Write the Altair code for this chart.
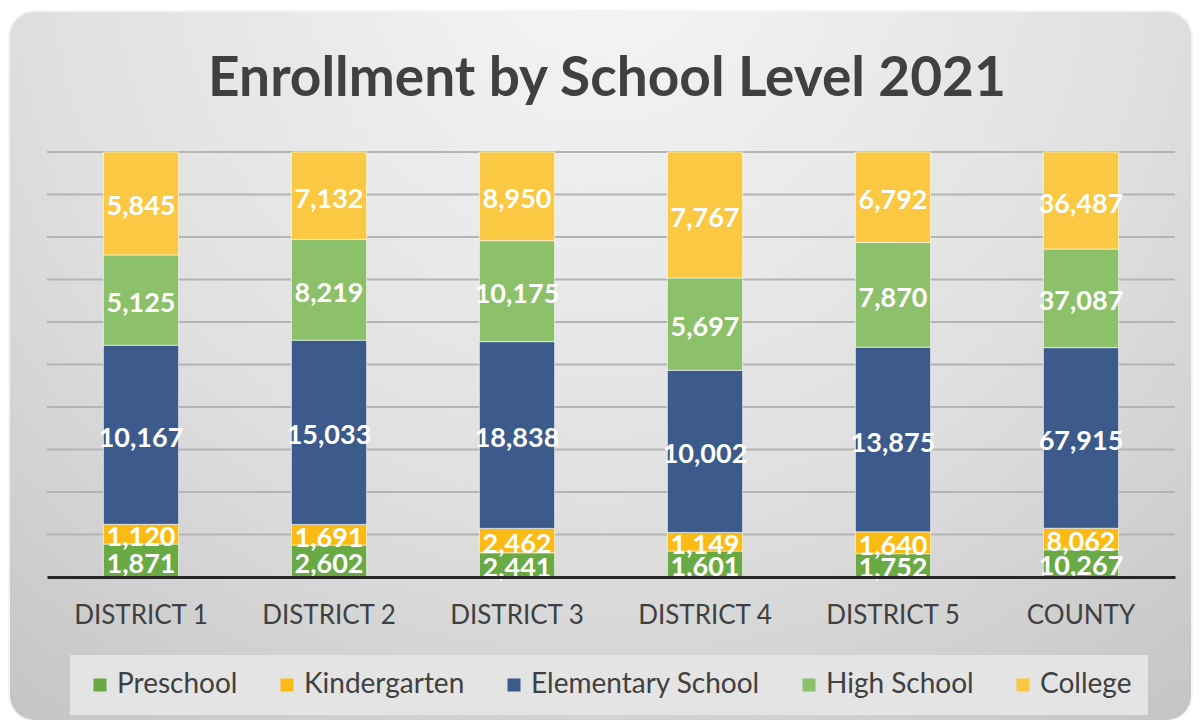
import altair as alt
import pandas as pd

districts = ["DISTRICT 1", "DISTRICT 2", "DISTRICT 3", "DISTRICT 4", "DISTRICT 5", "COUNTY"]
levels = ["Preschool", "Kindergarten", "Elementary School", "High School", "College"]
colors = ["#6AAA45", "#FCBA14", "#3C5A8C", "#8DC06A", "#FAC843"]

preschool = [1871, 2602, 2441, 1601, 1752, 10267]
kindergarten = [1120, 1691, 2462, 1149, 1640, 8062]
elementary = [10167, 15033, 18838, 10002, 13875, 67915]
high_school = [5125, 8219, 10175, 5697, 7870, 37087]
college = [5845, 7132, 8950, 7767, 6792, 36487]

grid_ticks = [0.1, 0.2, 0.3, 0.4, 0.5, 0.6, 0.7, 0.8, 0.9, 1.0]
title_text = "Enrollment by School Level 2021"

series = [preschool, kindergarten, elementary, high_school, college]
rows = []
for li, (lvl, vals) in enumerate(zip(levels, series)):
    for d, v in zip(districts, vals):
        rows.append({"district": d, "level": lvl, "order": li, "value": v})
df = pd.DataFrame(rows)

W, H = 1128, 425
FONT = "Lato"

yscale = alt.Scale(domain=[0, 1], nice=False)

x_enc = alt.X("district:N", sort=districts, title=None,
              scale=alt.Scale(paddingInner=0.6, paddingOuter=0.3),
              axis=alt.Axis(labelFontSize=26, labelColor="#404040", labelFont=FONT,
                            labelAngle=0, labelPadding=25, ticks=False,
                            domainColor="#262626", domainWidth=3, grid=False,
                            zindex=1))

bg = alt.Chart(alt.Data(values=[{"a": 1}])).mark_rect(
    cornerRadius=26,
    fill={"gradient": "radial", "x1": 0.5, "y1": 0.15, "r1": 0.0,
          "x2": 0.5, "y2": 0.15, "r2": 0.85,
          "stops": [{"offset": 0, "color": "#f6f6f6"},
                    {"offset": 0.55, "color": "#e0e0e0"},
                    {"offset": 1, "color": "#c2c2c2"}]},
    stroke="#f4f4f4", strokeWidth=2,
).encode(
    x=alt.value(-38), x2=alt.value(1145), y=alt.value(-141), y2=alt.value(569)
)

grid = alt.Chart(alt.Data(values=[{"g": g} for g in grid_ticks])).mark_rule(
    color="#b4b4b4", strokeWidth=2
).encode(
    y=alt.Y("g:Q", scale=yscale, axis=None),
    x=alt.value(0), x2=alt.value(W),
)

bars = alt.Chart(df).mark_bar(stroke="#ffffff", strokeWidth=1, strokeOpacity=0.6).encode(
    x=x_enc,
    y=alt.Y("value:Q", stack="normalize", title=None, scale=yscale, axis=None),
    color=alt.Color("level:N", sort=levels,
                    scale=alt.Scale(domain=levels, range=colors),
                    legend=alt.Legend(title=None, orient="none", direction="horizontal",
                                      legendX=23, legendY=503,
                                      fillColor="#e4e4e4", padding=16,
                                      symbolType="square", symbolSize=170,
                                      symbolStrokeWidth=0, symbolOpacity=1,
                                      labelFontSize=28, labelFont=FONT,
                                      labelColor="#404040", columnPadding=35,
                                      labelOffset=3, labelLimit=0)),
    order=alt.Order("order:Q", sort="ascending"),
)

labels = alt.Chart(df).transform_joinaggregate(
    total="sum(value)", groupby=["district"]
).transform_window(
    cum="sum(value)", groupby=["district"], sort=[alt.SortField("order")], frame=[None, 0]
).transform_calculate(
    mid="(datum.cum - datum.value / 2) / datum.total"
).mark_text(color="white", fontSize=27, fontWeight="bold", font=FONT,
            baseline="middle", dy=4).encode(
    x=alt.X("district:N", sort=districts),
    y=alt.Y("mid:Q", scale=yscale),
    text=alt.Text("value:Q", format=","),
)

title = alt.Chart(alt.Data(values=[{"t": title_text}])).mark_text(
    fontSize=55, font=FONT, fontWeight="bold", color="#404040",
    align="center", baseline="alphabetic"
).encode(
    text="t:N", x=alt.value(W / 2 - 4), y=alt.value(-56)
)

chart = alt.layer(bg, grid, bars, labels, title).properties(
    width=W, height=H,
    autosize=alt.AutoSizeParams(type="none"),
    padding={"left": 39, "top": 144, "right": 19, "bottom": 143},
).configure_view(stroke=None).configure(background="white")

chart.save("out.html", embed_options={"renderer": "svg", "actions": False})
